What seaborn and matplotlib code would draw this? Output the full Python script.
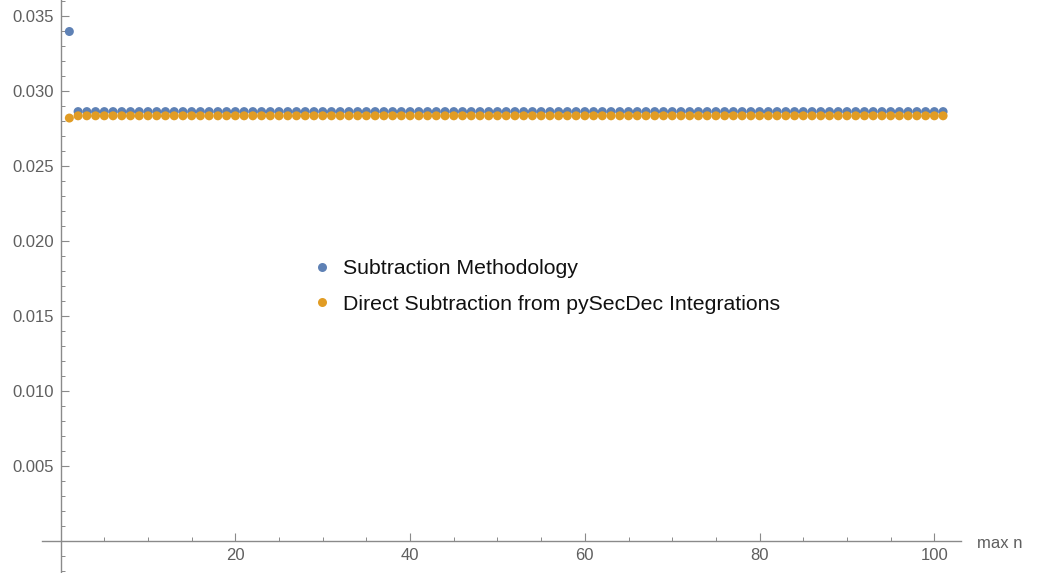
import numpy as np
import pandas as pd
import seaborn as sns
import matplotlib.pyplot as plt
from matplotlib.ticker import FixedLocator, MultipleLocator, FuncFormatter

# Convergence of the subtracted integral against the truncation order "max n"
max_n = list(range(1, 102))

subtraction_methodology = [
    0.03397,
    0.02863, 0.02863, 0.02863, 0.02863, 0.02863, 0.02863, 0.02863, 0.02863, 0.02863, 0.02863,
    0.02863, 0.02863, 0.02863, 0.02863, 0.02863, 0.02863, 0.02863, 0.02863, 0.02863, 0.02863,
    0.02863, 0.02863, 0.02863, 0.02863, 0.02863, 0.02863, 0.02863, 0.02863, 0.02863, 0.02863,
    0.02863, 0.02863, 0.02863, 0.02863, 0.02863, 0.02863, 0.02863, 0.02863, 0.02863, 0.02863,
    0.02863, 0.02863, 0.02863, 0.02863, 0.02863, 0.02863, 0.02863, 0.02863, 0.02863, 0.02863,
    0.02863, 0.02863, 0.02863, 0.02863, 0.02863, 0.02863, 0.02863, 0.02863, 0.02863, 0.02863,
    0.02863, 0.02863, 0.02863, 0.02863, 0.02863, 0.02863, 0.02863, 0.02863, 0.02863, 0.02863,
    0.02863, 0.02863, 0.02863, 0.02863, 0.02863, 0.02863, 0.02863, 0.02863, 0.02863, 0.02863,
    0.02863, 0.02863, 0.02863, 0.02863, 0.02863, 0.02863, 0.02863, 0.02863, 0.02863, 0.02863,
    0.02863, 0.02863, 0.02863, 0.02863, 0.02863, 0.02863, 0.02863, 0.02863, 0.02863, 0.02863,
]

direct_subtraction = [
    0.02820,
    0.02835, 0.02835, 0.02835, 0.02835, 0.02835, 0.02835, 0.02835, 0.02835, 0.02835, 0.02835,
    0.02835, 0.02835, 0.02835, 0.02835, 0.02835, 0.02835, 0.02835, 0.02835, 0.02835, 0.02835,
    0.02835, 0.02835, 0.02835, 0.02835, 0.02835, 0.02835, 0.02835, 0.02835, 0.02835, 0.02835,
    0.02835, 0.02835, 0.02835, 0.02835, 0.02835, 0.02835, 0.02835, 0.02835, 0.02835, 0.02835,
    0.02835, 0.02835, 0.02835, 0.02835, 0.02835, 0.02835, 0.02835, 0.02835, 0.02835, 0.02835,
    0.02835, 0.02835, 0.02835, 0.02835, 0.02835, 0.02835, 0.02835, 0.02835, 0.02835, 0.02835,
    0.02835, 0.02835, 0.02835, 0.02835, 0.02835, 0.02835, 0.02835, 0.02835, 0.02835, 0.02835,
    0.02835, 0.02835, 0.02835, 0.02835, 0.02835, 0.02835, 0.02835, 0.02835, 0.02835, 0.02835,
    0.02835, 0.02835, 0.02835, 0.02835, 0.02835, 0.02835, 0.02835, 0.02835, 0.02835, 0.02835,
    0.02835, 0.02835, 0.02835, 0.02835, 0.02835, 0.02835, 0.02835, 0.02835, 0.02835, 0.02835,
]

series_names = ["Subtraction Methodology", "Direct Subtraction from pySecDec Integrations"]
series_colors = ["#5E81B5", "#E19C24"]

x_major_ticks = [20, 40, 60, 80, 100]
y_major_ticks = [0.005, 0.010, 0.015, 0.020, 0.025, 0.030, 0.035]

df = pd.DataFrame({
    "max n": max_n * 2,
    "value": subtraction_methodology + direct_subtraction,
    "series": [series_names[0]] * len(max_n) + [series_names[1]] * len(max_n),
})

sns.set_style("white")
plt.rcParams["font.family"] = ["Liberation Sans", "DejaVu Sans"]

axis_grey = "#8a8a8a"
label_grey = "#5f5f5f"

fig = plt.figure(figsize=(10.39, 5.73), dpi=100)
ax = fig.add_axes([42 / 1039, 0.0, (961 - 42) / 1039, 1.0])

sns.scatterplot(
    data=df, x="max n", y="value", hue="series",
    palette=dict(zip(series_names, series_colors)),
    s=42, linewidth=0, ax=ax, zorder=3,
)

ax.set_xlim(-2.13, 103.05)
ax.set_ylim(-0.00213, 0.03607)
ax.set_xlabel("")
ax.set_ylabel("")

# Axes crossing at the origin
for side in ("top", "right"):
    ax.spines[side].set_visible(False)
ax.spines["left"].set_position(("data", 0))
ax.spines["bottom"].set_position(("data", 0))
for side in ("left", "bottom"):
    ax.spines[side].set_color(axis_grey)
    ax.spines[side].set_linewidth(1.0)

ax.xaxis.set_major_locator(FixedLocator(x_major_ticks))
ax.xaxis.set_minor_locator(MultipleLocator(5))
ax.yaxis.set_major_locator(FixedLocator(y_major_ticks))
ax.yaxis.set_minor_locator(MultipleLocator(0.001))
ax.yaxis.set_major_formatter(FuncFormatter(lambda v, p: f"{v:.3f}"))
ax.xaxis.set_major_formatter(FuncFormatter(lambda v, p: f"{v:.0f}"))

ax.tick_params(axis="both", which="major", direction="in", length=5.5, width=0.8,
               color=axis_grey, labelcolor=label_grey, labelsize=12, pad=5,
               left=True, bottom=True)
ax.tick_params(axis="both", which="minor", direction="in", length=3.2, width=0.7,
               color=axis_grey, left=True, bottom=True)

fig.text(977 / 1039, 1 - 543 / 573, "max n", color=label_grey, fontsize=12,
         ha="left", va="center")

sns.move_legend(
    ax, loc="center left",
    bbox_to_anchor=(300.6 / 1039, 1 - 286.5 / 573), bbox_transform=fig.transFigure,
    frameon=False, title=None, fontsize=15.3, markerscale=1.0,
    handlelength=1.0, handletextpad=0.5, borderpad=0, labelspacing=0.78,
)
for t in ax.get_legend().get_texts():
    t.set_color("#111111")

fig.savefig("out.png", dpi=100)
